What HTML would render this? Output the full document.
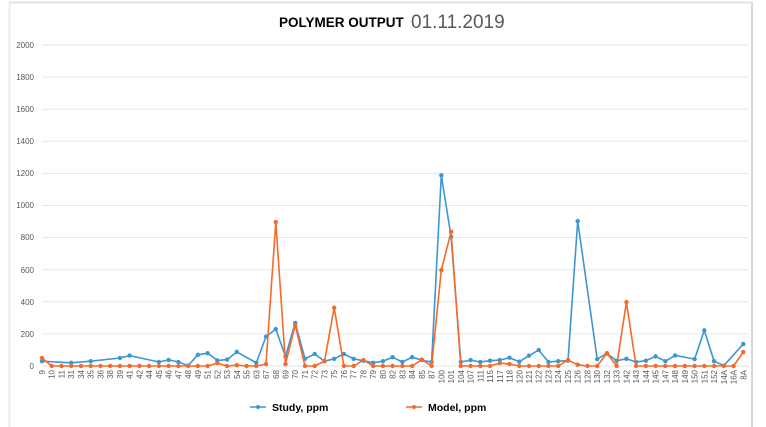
<!DOCTYPE html>
<html><head><meta charset="utf-8"><style>
html,body{margin:0;padding:0;background:#fff;}
svg{display:block;font-family:"Liberation Sans",sans-serif;}
</style></head><body>
<svg id="c" width="766" height="427" viewBox="0 0 766 427" xmlns="http://www.w3.org/2000/svg">
<rect x="0" y="0" width="766" height="427" fill="#fff"/>
<line x1="9" y1="2.5" x2="753" y2="2.5" stroke="#e3e3e3" stroke-width="2"/>
<line x1="9.5" y1="2" x2="9.5" y2="427" stroke="#ebebeb" stroke-width="2"/>
<line x1="752" y1="2" x2="752" y2="427" stroke="#d9d9d9" stroke-width="2"/>
<text x="279" y="27" font-size="13.5" font-weight="bold" fill="#000">POLYMER OUTPUT</text>
<text x="411" y="28" font-size="19" fill="#595959">01.11.2019</text>
<g id="grid" stroke="#e6e6e6" stroke-width="1"></g>
<g font-size="8" fill="#595959" text-anchor="end">
<text x="34" y="369">0</text><text x="34" y="337">200</text><text x="34" y="305">400</text>
<text x="34" y="273">600</text><text x="34" y="240">800</text><text x="34" y="208">1000</text>
<text x="34" y="176">1200</text><text x="34" y="144">1400</text><text x="34" y="112">1600</text>
<text x="34" y="80">1800</text><text x="34" y="48">2000</text>
</g>
<g id="xl" font-size="8" fill="#595959" text-anchor="end">
<text>9</text><text>10</text><text>11</text><text>31</text><text>34</text><text>35</text><text>36</text><text>38</text><text>39</text><text>41</text><text>42</text><text>44</text><text>45</text><text>46</text><text>47</text><text>48</text><text>49</text><text>51</text><text>52</text><text>53</text><text>54</text><text>55</text><text>63</text><text>67</text><text>68</text><text>69</text><text>70</text><text>71</text><text>72</text><text>73</text><text>75</text><text>76</text><text>77</text><text>78</text><text>79</text><text>80</text><text>82</text><text>83</text><text>84</text><text>85</text><text>87</text><text>100</text><text>101</text><text>104</text><text>107</text><text>111</text><text>115</text><text>117</text><text>118</text><text>120</text><text>121</text><text>122</text><text>123</text><text>124</text><text>125</text><text>126</text><text>128</text><text>130</text><text>132</text><text>133</text><text>142</text><text>143</text><text>144</text><text>145</text><text>147</text><text>148</text><text>149</text><text>150</text><text>151</text><text>152</text><text>14A</text><text>16A</text><text>8A</text>
</g>
<g id="series"></g>
<line x1="250" y1="407" x2="266" y2="407" stroke="#3b97d3" stroke-width="1.5"/><circle cx="258" cy="407" r="2" fill="#3b97d3"/>
<text x="272" y="411" font-size="10.5" font-weight="bold" fill="#000">Study, ppm</text>
<line x1="406" y1="407" x2="422" y2="407" stroke="#f6692a" stroke-width="1.5"/><circle cx="414" cy="407" r="2" fill="#f6692a"/>
<text x="428" y="411" font-size="10.5" font-weight="bold" fill="#000">Model, ppm</text>
</svg>
<script>
var NS="http://www.w3.org/2000/svg";
function X(i){return 42+9.74*i;}
function Y(v){return 366-0.1605*v;}
var g=document.getElementById("grid");
for(var k=0;k<=10;k++){var l=document.createElementNS(NS,"line");var y=Y(k*200);l.setAttribute("x1",42);l.setAttribute("x2",748);l.setAttribute("y1",y);l.setAttribute("y2",y);g.appendChild(l);}
var t=document.getElementById("xl").children;
for(var i=0;i<t.length;i++){var x=X(i)+3,y=370;t[i].setAttribute("transform","translate("+x+","+y+") rotate(-90)");}
var B={0:30,3:20,5:30,8:50,9:65,12:25,13:38,14:25,15:2,16:70,17:80,18:35,19:40,20:88,22:20,23:183,24:230,25:60,26:268,27:45,28:75,29:30,30:45,31:75,32:45,33:33,34:20,35:30,36:55,37:25,38:55,39:37,40:25,41:1188,42:805,43:25,44:37,45:25,46:33,47:37,48:52,49:27,50:64,51:99,52:25,53:30,54:33,55:903,57:43,58:77,59:33,60:45,61:25,62:33,63:60,64:30,65:66,67:43,68:222,69:30,70:2,72:137};
var O={0:50,18:18,20:5,23:12,24:897,25:12,26:255,29:30,30:363,33:37,39:40,41:598,42:837,47:18,48:12,54:37,55:8,58:80,60:398,72:87};
function draw(d,full,col){var s=document.getElementById("series");var pts=[];
for(var i=0;i<73;i++){var v=d[i];if(v===undefined){if(!full)continue;v=0;}pts.push([X(i),Y(v)]);}
var p=document.createElementNS(NS,"polyline");p.setAttribute("points",pts.map(function(a){return a[0].toFixed(1)+","+a[1].toFixed(1)}).join(" "));
p.setAttribute("fill","none");p.setAttribute("stroke",col);p.setAttribute("stroke-width","1.6");p.setAttribute("stroke-linejoin","round");s.appendChild(p);
pts.forEach(function(a){var c=document.createElementNS(NS,"circle");c.setAttribute("cx",a[0]);c.setAttribute("cy",a[1]);c.setAttribute("r","2.2");c.setAttribute("fill",col);s.appendChild(c);});}
draw(B,false,"#3b97d3");
draw(O,true,"#f6692a");
</script>
</body></html>
